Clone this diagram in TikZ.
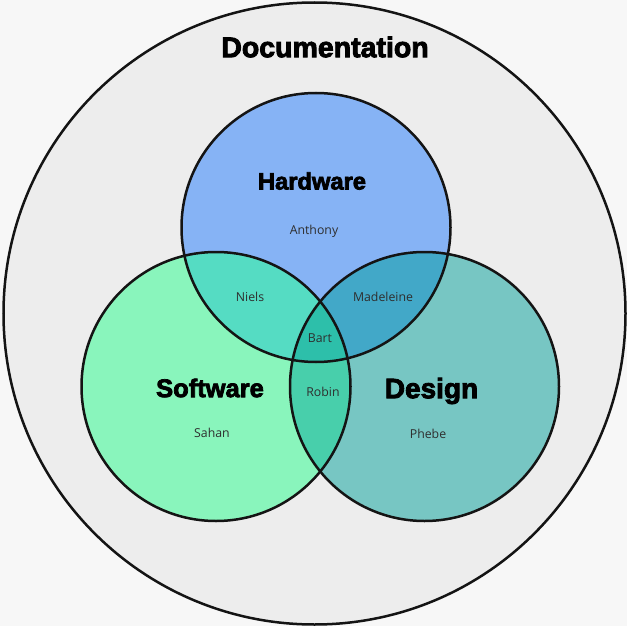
\documentclass[tikz,border=0pt]{standalone}
\usepackage{fontspec}
\setmainfont{Open Sans}
\newfontfamily\heavyfont{Liberation Sans}[UprightFeatures={FakeBold=3},BoldFeatures={FakeBold=3}]
\definecolor{bgcol}{HTML}{F7F7F7}
\definecolor{outercol}{HTML}{EDEDED}
\definecolor{hwcol}{HTML}{86B3F5}
\definecolor{swcol}{HTML}{89F5BC}
\definecolor{dscol}{HTML}{77C6C3}
\definecolor{hscol}{HTML}{55DCC3}
\definecolor{hdcol}{HTML}{42A8C8}
\definecolor{sdcol}{HTML}{48CFAB}
\definecolor{allcol}{HTML}{2DBFAA}
\definecolor{linecol}{HTML}{141414}
\definecolor{namecol}{HTML}{2E2E2E}
\tikzset{
  ring/.style={draw=linecol, line width=2.5pt},
  setlabel/.style={text=black, inner sep=0pt},
  person/.style={font=\fontsize{12.3}{14}\selectfont, text=namecol, inner sep=0pt}
}
\begin{document}
\begin{tikzpicture}[x=1pt,y=-1pt]
\fill[bgcol] (0,0) rectangle (627,626);
\useasboundingbox (0,0) rectangle (627,626);
\coordinate (oc) at (314.5,313.5);
\coordinate (hc) at (316,227.5);
\coordinate (sc) at (216,386.5);
\coordinate (dc) at (424.5,386.5);
\def\R{134.5}
% outer set
\fill[outercol] (oc) circle (311);
\draw[ring] (oc) circle (311);
% base fills
\fill[hwcol] (hc) circle (\R);
\fill[swcol] (sc) circle (\R);
\fill[dscol] (dc) circle (\R);
% pairwise overlaps
\begin{scope}
  \clip (hc) circle (\R);
  \fill[hscol] (sc) circle (\R);
  \fill[hdcol] (dc) circle (\R);
\end{scope}
\begin{scope}
  \clip (sc) circle (\R);
  \fill[sdcol] (dc) circle (\R);
\end{scope}
% triple overlap
\begin{scope}
  \clip (hc) circle (\R);
  \clip (sc) circle (\R);
  \fill[allcol] (dc) circle (\R);
\end{scope}
% outlines
\draw[ring] (hc) circle (\R);
\draw[ring] (sc) circle (\R);
\draw[ring] (dc) circle (\R);
% labels
\node[setlabel, font=\heavyfont\bfseries\fontsize{28.5}{30}\selectfont] (doc) at (325,47) {Documentation};
\node[setlabel, font=\heavyfont\bfseries\fontsize{23.7}{26}\selectfont] (hw) at (312,181) {Hardware};
\node[setlabel, font=\heavyfont\bfseries\fontsize{25.5}{28}\selectfont] (sw) at (210,388) {Software};
\node[setlabel, font=\heavyfont\bfseries\fontsize{28}{30}\selectfont] (ds) at (431.5,391) {Design};
\node[person] (anthony) at (314,231) {Anthony};
\node[person] (niels) at (250,297) {Niels};
\node[person] (madeleine) at (383,297) {Madeleine};
\node[person] (bart) at (320,338) {Bart};
\node[person] (robin) at (323,392) {Robin};
\node[person] (sahan) at (212,433) {Sahan};
\node[person] (phebe) at (428,434) {Phebe};
\end{tikzpicture}
\end{document}
